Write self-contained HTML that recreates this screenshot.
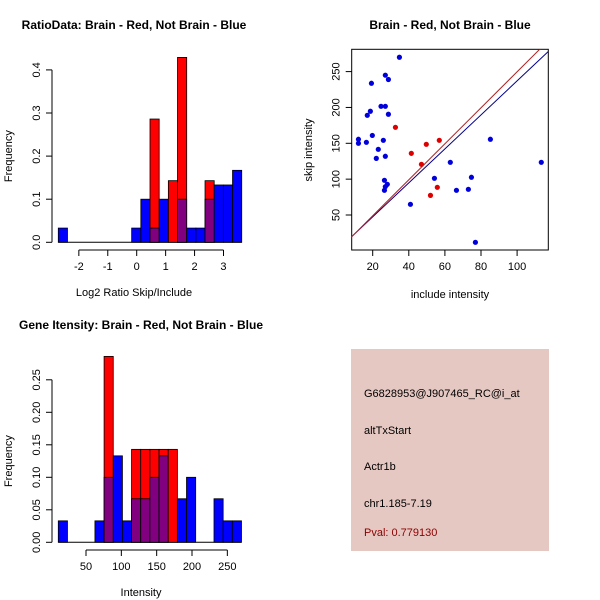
<!DOCTYPE html>
<html><head><meta charset="utf-8"><style>
body{margin:0;background:#fff}
svg{display:block;font-family:"Liberation Sans",sans-serif}
</style></head><body>
<svg id="c" width="600" height="600" viewBox="0 0 600 600" xmlns="http://www.w3.org/2000/svg">
<rect width="600" height="600" fill="#fff"/>
<rect x="351" y="349" width="198" height="202" fill="#e6c8c2"/>
<text x="364" y="397" font-size="11" fill="#000">G6828953@J907465_RC@i_at</text>
<text x="364" y="434" font-size="11" fill="#000">altTxStart</text>
<text x="364" y="470" font-size="11" fill="#000">Actr1b</text>
<text x="364" y="507" font-size="11" fill="#000">chr1.185-7.19</text>
<text x="364" y="536" font-size="11" fill="#8b0000">Pval: 0.779130</text>
</svg>
<script>
// ---- Histogram 1 data ----
const h1Start = -2.71, h1Step = 0.317;
const h1Blue = [0.033,0,0,0,0,0,0,0,0.033,0.1,0.033,0.1,0,0.1,0.033,0.033,0.1,0.133,0.133,0.167];
const h1Red  = [0,0,0,0,0,0,0,0,0,0,0.286,0,0.143,0.429,0,0,0.143,0,0,0];
const h1XTicks = [-2,-1,0,1,2,3];
const h1YTicks = [0,0.1,0.2,0.3,0.4];
const h1YLabels = ["0.0","0.1","0.2","0.3","0.4"];
// ---- Histogram 2 data ----
const h2Start = 10.8, h2Step = 12.96;
const h2Blue = [0.033,0,0,0,0.033,0.1,0.133,0.033,0.067,0.067,0.1,0.133,0,0.067,0.1,0,0,0.067,0.033,0.033];
const h2Red  = [0,0,0,0,0,0.286,0,0,0.143,0.143,0.143,0.143,0.143,0,0,0,0,0,0,0];
const h2XTicks = [50,100,150,200,250];
const h2YTicks = [0,0.05,0.1,0.15,0.2,0.25];
const h2YLabels = ["0.00","0.05","0.10","0.15","0.20","0.25"];
// ---- Scatter data ----
const blueX = [12.1,12.1,16.5,17,18.7,19.3,19.8,23.1,22,24.6,27,25.9,27,27,28.7,28.7,34.8,26.5,27,28.1,26.5,40.9,54.2,63,66.4,73,74.7,76.9,85.2,113.4];
const blueY = [155.6,150,151.4,189,194.7,233.7,161,141.6,129,201.6,201.6,154.2,131.9,245,239,190.5,270,98.4,89.5,92.8,84.4,64.9,101.2,123.5,84.4,85.8,102.6,11.9,155.6,123.5];
const redX = [32.6,41.4,47,49.7,56.9,52,55.8];
const redY = [172.3,136,120.7,148.6,154.2,77.4,88.6];
const lineSlopes = [2.37,2.51];
const lineIntercepts = [0,-1.3];
const lineColors = ["#00008b","#b22222"];
const sXTicks = [20,40,60,80,100];
const sYTicks = [50,100,150,200,250];

const svg = document.getElementById('c');
const NS = 'http://www.w3.org/2000/svg';
function mk(tag, attrs){const e=document.createElementNS(NS,tag);for(const k in attrs)e.setAttribute(k,attrs[k]);svg.appendChild(e);return e;}
function txt(x,y,s,size,extra){const e=mk('text',Object.assign({x:x,y:y,'font-size':size,'text-anchor':'middle',fill:'#000'},extra||{}));e.textContent=s;return e;}

function hist(p){
  const X=v=>p.x0+(v-p.xv0)*p.xs, Y=v=>p.y0-v*p.ys;
  const t=txt(p.tx,p.ty,p.title,12,{'font-weight':'bold'});
  
  
  mk('line',{x1:X(p.start),x2:X(p.start+p.blue.length*p.step),y1:Y(0),y2:Y(0),stroke:'#000'});
  for(let i=0;i<p.blue.length;i++){
    const a=X(p.start+i*p.step), b=X(p.start+(i+1)*p.step), w=b-a;
    const bl=p.blue[i], rd=p.red[i];
    const hi=Math.max(bl,rd), lo=Math.min(bl,rd);
    if(hi<=0) continue;
    const r=mk('rect',{x:a,y:Y(hi),width:w,height:Y(0)-Y(hi),fill:rd>bl?'#ff0000':'#0000ff',stroke:'#000','stroke-width':0.8});
    
    
    if(lo>0){
      const o=mk('rect',{x:a,y:Y(lo),width:w,height:Y(0)-Y(lo),fill:'#800080',stroke:'#000','stroke-width':0.8});
      
      
    }
  }
  const ya=mk('line',{x1:p.yax,x2:p.yax,y1:Y(p.yt[0]),y2:Y(p.yt[p.yt.length-1]),stroke:'#000'});
  
  
  p.yt.forEach((v,i)=>{mk('line',{x1:p.yax-6,x2:p.yax,y1:Y(v),y2:Y(v),stroke:'#000'});
    const l=txt(p.yax-12,Y(v),p.yl[i],11,{transform:`rotate(-90 ${p.yax-12} ${Y(v)})`});
    
    });
  const xa=mk('line',{x1:X(p.xt[0]),x2:X(p.xt[p.xt.length-1]),y1:p.xay,y2:p.xay,stroke:'#000'});
  
  
  p.xt.forEach(v=>{mk('line',{x1:X(v),x2:X(v),y1:p.xay,y2:p.xay+6,stroke:'#000'});
    const l=txt(X(v),p.xay+20,String(v),11);
    
    });
  const xl=txt(p.tx,p.xay+46,p.xlab,11);
  
  
  const ylx=12, yly=(Y(0)+Y(p.yt[p.yt.length-1]))/2;
  const yl=txt(ylx,yly,'Frequency',11,{transform:`rotate(-90 ${ylx} ${yly})`});
  
  
}
hist({id:'ratio-hist',title:'RatioData: Brain - Red, Not Brain - Blue',tx:134,ty:29,
  x0:136.7,xv0:0,xs:28.93,y0:242.3,ys:431,start:h1Start,step:h1Step,blue:h1Blue,red:h1Red,
  xt:h1XTicks,yt:h1YTicks,yl:h1YLabels,yax:52,xay:250,xlab:'Log2 Ratio Skip/Include'});
hist({id:'intensity-hist',title:'Gene Itensity: Brain - Red, Not Brain - Blue',tx:141,ty:329,
  x0:86,xv0:50,xs:0.7067,y0:542.3,ys:650,start:h2Start,step:h2Step,blue:h2Blue,red:h2Red,
  xt:h2XTicks,yt:h2YTicks,yl:h2YLabels,yax:52,xay:550,xlab:'Intensity'});

(function(){
  const L=351.7,R=548.3,T=49.3,B=250;
  const X=v=>372.7+(v-20)*1.805, Y=v=>215-(v-50)*0.717;
  const t=txt(450,29,'Brain - Red, Not Brain - Blue',12,{'font-weight':'bold'});
  
  
  const box=mk('rect',{x:L,y:T,width:R-L,height:B-T,fill:'none',stroke:'#000'});
  
  
  sXTicks.forEach(v=>{mk('line',{x1:X(v),x2:X(v),y1:B,y2:B+6,stroke:'#000'});
    const l=txt(X(v),B+20,String(v),11);
    
    });
  sYTicks.forEach(v=>{mk('line',{x1:L-6,x2:L,y1:Y(v),y2:Y(v),stroke:'#000'});
    const l=txt(L-12,Y(v),String(v),11,{transform:`rotate(-90 ${L-12} ${Y(v)})`});
    
    });
  const xl=txt(450,298,'include intensity',11);
  
  
  const yl=txt(312,150,'skip intensity',11,{transform:'rotate(-90 312 150)'});
  
  
  const cp=mk('clipPath',{id:'sc'}); const cr=document.createElementNS(NS,'rect');
  cr.setAttribute('x',L);cr.setAttribute('y',T);cr.setAttribute('width',R-L);cr.setAttribute('height',B-T);cp.appendChild(cr);
  const g=mk('g',{'clip-path':'url(#sc)'});
  const xa=0, xb=130;
  lineSlopes.forEach((m,i)=>{
    const l=document.createElementNS(NS,'line');
    l.setAttribute('x1',X(xa));l.setAttribute('x2',X(xb));
    l.setAttribute('y1',Y(m*xa+lineIntercepts[i]));l.setAttribute('y2',Y(m*xb+lineIntercepts[i]));
    l.setAttribute('stroke',lineColors[i]);l.setAttribute('stroke-width','1');
    
    
    g.appendChild(l);
  });
  blueX.forEach((v,i)=>{const c=mk('circle',{cx:X(v),cy:Y(blueY[i]),r:2.6,fill:'#0000dd'});
    
    });
  redX.forEach((v,i)=>{const c=mk('circle',{cx:X(v),cy:Y(redY[i]),r:2.6,fill:'#dd0000'});
    
    });
})();
</script>
</body></html>
